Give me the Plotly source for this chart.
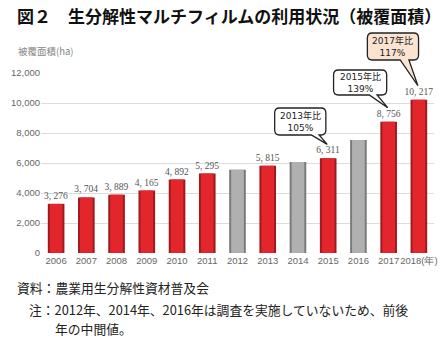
import plotly.graph_objects as go

years = ["2006", "2007", "2008", "2009", "2010", "2011", "2012",
         "2013", "2014", "2015", "2016", "2017", "2018"]
tick_labels = ["2006", "2007", "2008", "2009", "2010", "2011", "2012",
               "2013", "2014", "2015", "2016", "2017", "2018(年)"]
area_ha = [3276, 3704, 3889, 4165, 4892, 5295, 5555,
           5815, 6063, 6311, 7534, 8756, 10217]
surveyed = [True, True, True, True, True, True, False,
            True, False, True, False, True, True]
callout_years = ["2015", "2017", "2018"]
callout_texts = ["2013年比<br>105%", "2015年比<br>139%", "2017年比<br>117%"]
y_ticks = [0, 2000, 4000, 6000, 8000, 10000, 12000]

W, H = 448, 337
L, R, T, B = 30, 437, 73, 253
YMAX = 12000

RED_DARK, RED = "#9e1a1e", "#e2262b"
GRAY_DARK, GRAY = "#7a7a7a", "#b0b0b0"

base_colors = [RED_DARK if s else GRAY_DARK for s in surveyed]
main_colors = [RED if s else GRAY for s in surveyed]
labels = [f"{v:,}".replace(",", ", ") if s else "" for v, s in zip(area_ha, surveyed)]

fig = go.Figure()
fig.add_trace(go.Bar(x=years, y=area_ha, width=0.55, marker=dict(color=base_colors, line=dict(width=0)),
                     hoverinfo="skip"))
fig.add_trace(go.Bar(x=years, y=area_ha, width=0.42, marker=dict(color=main_colors, line=dict(width=0)),
                     text=labels, textposition="outside", cliponaxis=False, constraintext="none",
                     textfont=dict(family="Liberation Serif", size=9.5, color="#555")))

shapes = []
annotations = []

def px_to_paper(px, py):
    return (px - L) / (R - L), (B - py) / (B - T)

def bubble(tip_year, text, bx0, by0, bx1, by1, tail_a, tail_b, fill):
    i = years.index(tip_year)
    v = area_ha[i]
    tip_px = L + (i + 0.5) * (R - L) / len(years) - 1
    tip_py = B - v / YMAX * (B - T) - 14
    r = 5
    path = (f"M {bx0+r},{by0} L {bx1-r},{by0} Q {bx1},{by0} {bx1},{by0+r} "
            f"L {bx1},{by1-r} Q {bx1},{by1} {bx1-r},{by1} "
            f"L {tail_b},{by1} L {tip_px},{tip_py} L {tail_a},{by1} "
            f"L {bx0+r},{by1} Q {bx0},{by1} {bx0},{by1-r} "
            f"L {bx0},{by0+r} Q {bx0},{by0} {bx0+r},{by0} Z")
    out = []
    for t in path.split(" "):
        if "," in t:
            a, b = t.split(",")
            x, y = px_to_paper(float(a), float(b))
            out.append(f"{x:.5f},{y:.5f}")
        else:
            out.append(t)
    shapes.append(dict(type="path", xref="paper", yref="paper", path=" ".join(out),
                       fillcolor=fill, line=dict(color="#222", width=1.3), layer="above"))
    cx, cy = px_to_paper((bx0 + bx1) / 2, (by0 + by1) / 2)
    annotations.append(dict(x=cx, y=cy, xref="paper", yref="paper", text=text, showarrow=False,
                            font=dict(family="DejaVu Sans, Noto Sans CJK JP", size=9, color="#222"),
                            align="center", yanchor="middle", xanchor="center"))

bubble(callout_years[0], callout_texts[0], 272, 108, 325, 135, 310, 318, "#ffffff")
bubble(callout_years[1], callout_texts[1], 333, 70, 388, 95, 370, 378, "#ffffff")
bubble(callout_years[2], callout_texts[2], 368, 33, 421, 60, 402, 411, "#fbe3d2")

font_jp = "Noto Sans CJK JP"
annotations += [
    dict(x=0, y=1, xref="paper", yref="paper", xanchor="left", yanchor="top",
         xshift=-L + 4, yshift=T - 1,
         text="<b>図２　生分解性マルチフィルムの利用状況（被覆面積）</b>", showarrow=False,
         font=dict(family=font_jp, size=17, color="#111")),
    dict(x=0, y=1, xref="paper", yref="paper", xanchor="left", yanchor="middle",
         xshift=-L + 5, yshift=T - 51,
         text="被覆面積(ha)", showarrow=False,
         font=dict(family=font_jp, size=9.5, color="#888")),
]
footer = [
    (3, 287, "資料：農業用生分解性資材普及会"),
    (16, 309, "注：2012年、2014年、2016年は調査を実施していないため、前後"),
    (42, 328, "年の中間値。"),
]
for fx, fy, ft in footer:
    px, py = px_to_paper(fx, fy)
    annotations.append(dict(x=px, y=py, xref="paper", yref="paper", xanchor="left", yanchor="middle",
                            text=ft, showarrow=False, font=dict(family=font_jp, size=12.8, color="#222")))

fig.update_layout(
    width=W, height=H, margin=dict(l=L, r=W - R, t=T, b=H - B),
    paper_bgcolor="white", plot_bgcolor="white",
    barmode="overlay", showlegend=False,
    shapes=shapes, annotations=annotations,
    xaxis=dict(type="category", tickvals=years, ticktext=tick_labels, showgrid=False, tickangle=0,
               showline=False, ticks="", tickfont=dict(family="Liberation Sans", size=9.5, color="#666")),
    yaxis=dict(range=[0, YMAX], tickvals=y_ticks, tickformat=",", showgrid=True, gridcolor="#dcdcdc",
               gridwidth=1, zeroline=False, showline=False, ticks="",
               tickfont=dict(family="Liberation Sans", size=9.5, color="#666")),
)

fig.write_html("out.html")
